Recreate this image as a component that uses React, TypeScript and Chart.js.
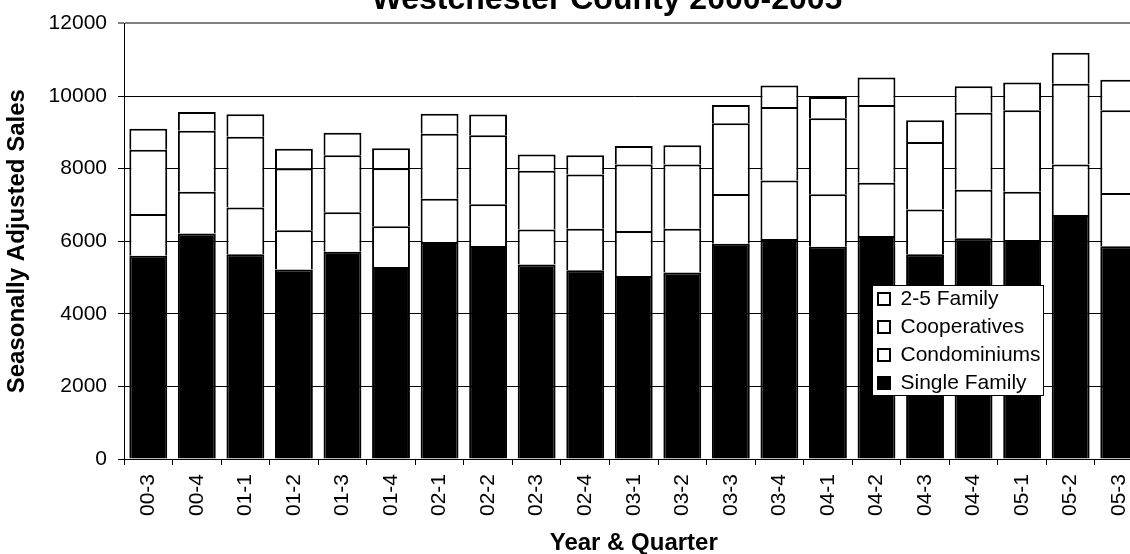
import React, { useEffect, useRef } from 'react';
import { Chart, registerables } from 'chart.js';

Chart.register(...registerables);

// ---- data ----
const categories = ['00-3', '00-4', '01-1', '01-2', '01-3', '01-4', '02-1', '02-2', '02-3', '02-4', '03-1', '03-2', '03-3', '03-4', '04-1', '04-2', '04-3', '04-4', '05-1', '05-2', '05-3'];
const singleFamily = [5600, 6210, 5640, 5220, 5710, 5290, 5980, 5870, 5360, 5200, 5040, 5140, 5930, 6060, 5850, 6140, 5640, 6080, 6030, 6720, 5860];
const condominiums = [1150, 1150, 1290, 1080, 1090, 1120, 1190, 1150, 960, 1140, 1240, 1200, 1370, 1610, 1440, 1470, 1230, 1340, 1330, 1390, 1470];
const cooperatives = [1770, 1680, 1950, 1700, 1570, 1600, 1790, 1900, 1620, 1500, 1830, 1770, 1950, 2030, 2100, 2140, 1860, 2120, 2250, 2230, 2280];
const twoToFiveFamily = [580, 520, 620, 550, 620, 550, 550, 570, 450, 530, 510, 530, 500, 590, 580, 760, 600, 730, 760, 850, 840];
const yTickValues = [0, 2000, 4000, 6000, 8000, 10000, 12000];

const FAMILY = "'Liberation Sans', Arial, Helvetica, sans-serif";
const CANVAS_W = 1214;
const CANVAS_H = 580;
const CANVAS_TOP = -19;

const legendPlacer = {
  id: 'legendPlacer',
  afterInit(chart: any) {
    const lg = chart.legend;
    if (!lg) return;
    lg._layers = () => [
      {
        z: 10,
        draw: (area: any) => {
          const ctx = chart.ctx;
          ctx.save();
          ctx.fillStyle = '#fff';
          ctx.fillRect(872, 285 - CANVAS_TOP, 172, 111);
          ctx.strokeStyle = '#000';
          ctx.lineWidth = 1;
          ctx.strokeRect(872.5, 285.5 - CANVAS_TOP, 171, 110);
          ctx.restore();
          lg.draw(area);
        },
      },
    ];
  },
  afterLayout(chart: any) {
    const lg = chart.legend;
    if (!lg) return;
    const left = 871;
    const top = 281.5 - CANVAS_TOP;
    lg.left = left;
    lg.top = top;
    lg.width = 180;
    lg.height = 130;
    lg.right = left + 180;
    lg.bottom = top + 130;
  },
};

export default function App() {
  const ref = useRef<HTMLCanvasElement>(null);

  useEffect(() => {
    const canvas = ref.current;
    if (!canvas) return;
    Chart.defaults.font.family = FAMILY;
    const tickFont = { family: FAMILY, size: 21 };
    const axisTitleFont = { family: FAMILY, size: 24, weight: 'bold' as const, lineHeight: 1.2 };

    const ds = (label: string, data: number[], fill: string) => ({
      label,
      data,
      backgroundColor: fill,
      borderColor: '#000',
      borderWidth: 2,
    });

    const chart = new Chart(canvas, {
      type: 'bar',
      data: {
        labels: categories,
        datasets: [
          ds('Single Family', singleFamily, '#000'),
          ds('Condominiums', condominiums, '#fff'),
          ds('Cooperatives', cooperatives, '#fff'),
          ds('2-5 Family', twoToFiveFamily, '#fff'),
        ],
      },
      options: {
        responsive: false,
        animation: false,
        devicePixelRatio: 1,
        layout: { padding: 0 },
        datasets: { bar: { barPercentage: 0.78, categoryPercentage: 1 } },
        plugins: {
          title: {
            display: true,
            text: 'Westchester County 2000-2005',
            color: '#000',
            font: { family: FAMILY, size: 32, weight: 'bold', lineHeight: 1.2 },
            padding: { top: 0, bottom: 4 },
          },
          legend: {
            display: true,
            position: 'chartArea' as any,
            align: 'start',
            reverse: true,
            labels: {
              color: '#000',
              font: { family: FAMILY, size: 21 },
              boxWidth: 12,
              boxHeight: 12,
              padding: 7,
            },
          },
          tooltip: { enabled: false },
        },
        scales: {
          x: {
            stacked: true,
            grid: {
              display: true,
              drawOnChartArea: false,
              drawTicks: true,
              tickLength: 6,
              color: '#000',
              lineWidth: 1,
            },
            border: { display: true, color: '#000', width: 1 },
            ticks: {
              autoSkip: false,
              maxRotation: 90,
              minRotation: 90,
              padding: 9,
              color: '#000',
              font: tickFont,
            },
            title: {
              display: true,
              text: 'Year & Quarter',
              color: '#000',
              font: axisTitleFont,
              padding: { top: 0, bottom: 3 },
            },
            afterFit: (s: any) => {
              s.height = CANVAS_H - (459 - CANVAS_TOP);
            },
          },
          y: {
            stacked: true,
            min: 0,
            max: 12000,
            afterBuildTicks: (s: any) => {
              s.ticks = yTickValues.map((v) => ({ value: v }));
            },
            ticks: {
              padding: 11,
              color: '#000',
              font: tickFont,
              callback: (v: any) => String(v),
            },
            grid: {
              color: (c: any) => (c.tick && c.tick.value === 12000 ? '#808080' : '#000'),
              lineWidth: (c: any) => (c.tick && c.tick.value === 12000 ? 2 : 1),
              tickColor: '#000',
              tickWidth: 1,
              tickLength: 6,
              drawTicks: true,
            },
            border: { display: true, color: '#000', width: 1 },
            title: {
              display: true,
              text: 'Seasonally Adjusted Sales',
              color: '#000',
              font: axisTitleFont,
              padding: { top: 3, bottom: 0 },
            },
            afterFit: (s: any) => {
              s.width = 124;
            },
          },
          y2: {
            type: 'linear',
            position: 'right',
            display: true,
            grid: { display: false, drawTicks: false },
            ticks: { display: false },
            border: { display: false },
            afterFit: (s: any) => {
              s.width = CANVAS_W - 1143.5;
            },
          },
        },
      },
      plugins: [legendPlacer],
    } as any);

    return () => chart.destroy();
  }, []);

  return (
    <div
      style={{
        position: 'fixed',
        left: 0,
        top: 0,
        width: 1130,
        height: 554,
        overflow: 'hidden',
        background: '#fff',
      }}
    >
      <canvas
        ref={ref}
        width={CANVAS_W}
        height={CANVAS_H}
        style={{ position: 'absolute', left: 0, top: CANVAS_TOP, width: CANVAS_W, height: CANVAS_H }}
      />
    </div>
  );
}
